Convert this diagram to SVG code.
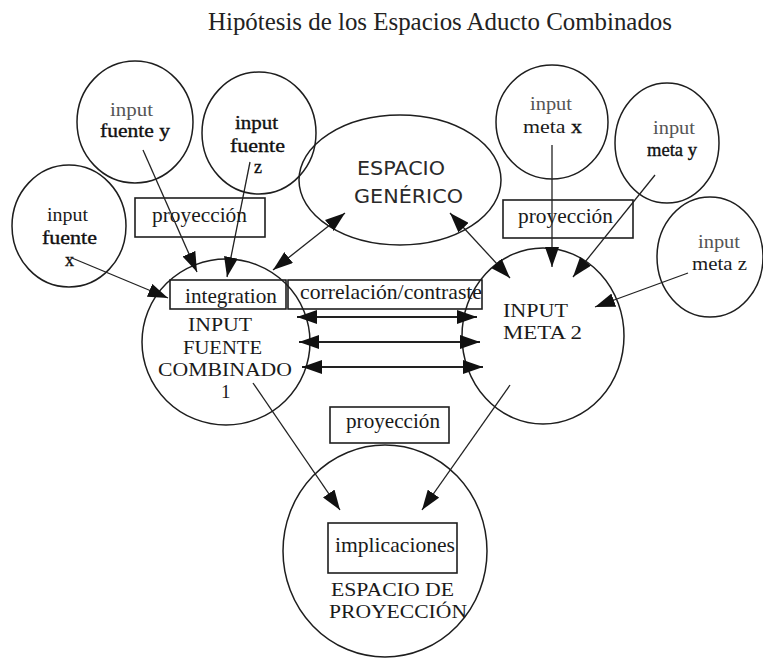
<svg xmlns="http://www.w3.org/2000/svg" width="763" height="659" viewBox="0 0 763 659">
<defs>
<style>
.bg{fill:#ffffff}
.c{fill:none;stroke:#1e1e1e;stroke-width:1.5}
.b{fill:none;stroke:#1e1e1e;stroke-width:1.6}
.l{fill:none;stroke:#222;stroke-width:1.3}
.hl{fill:none;stroke:#222;stroke-width:2}
.t{font-family:"Liberation Serif","Times New Roman",serif;font-size:21px;fill:#1a1a1a}
.sm{font-size:18px}
.md{font-size:19px}
.lt{fill:#555}
.dk{fill:#111;stroke:#111;stroke-width:0.35}
.s{font-family:"DejaVu Sans","Open Sans",sans-serif;font-size:19px;fill:#2a2a2a}
.ti{font-family:"Liberation Serif","Times New Roman",serif;font-size:25px;fill:#222}
</style>
<marker id="ah" viewBox="0 0 20 14" refX="20" refY="7" markerWidth="20" markerHeight="14" orient="auto-start-reverse" markerUnits="userSpaceOnUse">
<path d="M0,0 L20,7 L0,14 z" fill="#111"/>
</marker>
</defs>
<rect class="bg" x="0" y="0" width="763" height="659"/>
<text class="ti" x="208" y="30" textLength="464" lengthAdjust="spacingAndGlyphs">Hipótesis de los Espacios Aducto Combinados</text>

<g id="fuente-y">
<ellipse class="c" cx="135" cy="122" rx="58" ry="61"/>
<text class="t sm lt" x="110" y="116" textLength="43" lengthAdjust="spacingAndGlyphs">input</text>
<text class="t sm dk" x="100" y="137" textLength="70" lengthAdjust="spacingAndGlyphs">fuente y</text>
</g>
<g id="fuente-z">
<ellipse class="c" cx="259" cy="133" rx="57" ry="61"/>
<text class="t sm dk" x="235" y="129" textLength="43" lengthAdjust="spacingAndGlyphs">input</text>
<text class="t sm dk" x="230" y="152" textLength="55" lengthAdjust="spacingAndGlyphs">fuente</text>
<text class="t sm dk" x="254" y="173">z</text>
</g>
<g id="fuente-x">
<ellipse class="c" cx="69" cy="226" rx="57" ry="61"/>
<text class="t sm" x="47" y="221" textLength="41" lengthAdjust="spacingAndGlyphs">input</text>
<text class="t sm dk" x="42" y="244" textLength="55" lengthAdjust="spacingAndGlyphs">fuente</text>
<text class="t sm dk" x="65" y="266">x</text>
</g>
<g id="espacio-generico">
<ellipse class="c" cx="400" cy="180" rx="101" ry="65"/>
<text class="s" x="357" y="175" textLength="88" lengthAdjust="spacingAndGlyphs">ESPACIO</text>
<text class="s" x="354" y="203" textLength="109" lengthAdjust="spacingAndGlyphs">GENÉRICO</text>
</g>
<g id="meta-x">
<ellipse class="c" cx="552" cy="122" rx="56" ry="57"/>
<text class="t sm lt" x="530" y="110" textLength="42" lengthAdjust="spacingAndGlyphs">input</text>
<text class="t sm" x="523" y="133" textLength="59" lengthAdjust="spacingAndGlyphs">meta <tspan class="dk">x</tspan></text>
</g>
<g id="meta-y">
<ellipse class="c" cx="667" cy="143" rx="52" ry="60"/>
<text class="t sm lt" x="653" y="134" textLength="42" lengthAdjust="spacingAndGlyphs">input</text>
<text class="t sm dk" x="647" y="156" textLength="50" lengthAdjust="spacingAndGlyphs">meta y</text>
</g>
<g id="meta-z">
<ellipse class="c" cx="710" cy="257" rx="53" ry="60"/>
<text class="t sm lt" x="698" y="248" textLength="42" lengthAdjust="spacingAndGlyphs">input</text>
<text class="t sm" x="692" y="270" textLength="55" lengthAdjust="spacingAndGlyphs">meta z</text>
</g>
<g id="proyeccion-izq">
<rect class="b" x="135" y="198" width="130" height="39"/>
<text class="t" x="152" y="222" textLength="95" lengthAdjust="spacingAndGlyphs">proyección</text>
</g>
<g id="proyeccion-der">
<rect class="b" x="503" y="200" width="130" height="38"/>
<text class="t" x="518" y="223" textLength="95" lengthAdjust="spacingAndGlyphs">proyección</text>
</g>
<g id="input-fuente-combinado">
<ellipse class="c" cx="226" cy="342" rx="84" ry="83"/>
<text class="t md" x="188" y="331" textLength="64" lengthAdjust="spacingAndGlyphs">INPUT</text>
<text class="t md" x="183" y="354" textLength="79" lengthAdjust="spacingAndGlyphs">FUENTE</text>
<text class="t md" x="158" y="376" textLength="134" lengthAdjust="spacingAndGlyphs">COMBINADO</text>
<text class="t md" x="221" y="398">1</text>
</g>
<g id="integration">
<rect class="b" x="170" y="280" width="116" height="29" fill="#fff"/>
<text class="t" x="185" y="303" textLength="92" lengthAdjust="spacingAndGlyphs">integration</text>
</g>
<g id="correlacion">
<rect class="b" x="288" y="280" width="194" height="29" fill="#fff"/>
<text class="t" x="300" y="299" textLength="182" lengthAdjust="spacingAndGlyphs">correlación/contraste</text>
</g>
<g id="input-meta-2">
<ellipse class="c" cx="543" cy="336" rx="81" ry="88"/>
<text class="t md" x="503" y="317" textLength="65" lengthAdjust="spacingAndGlyphs">INPUT</text>
<text class="t md" x="503" y="339" textLength="79" lengthAdjust="spacingAndGlyphs">META 2</text>
</g>
<g id="proyeccion-centro">
<rect class="b" x="330" y="407" width="119" height="36"/>
<text class="t" x="346" y="428" textLength="94" lengthAdjust="spacingAndGlyphs">proyección</text>
</g>
<g id="espacio-proyeccion">
<ellipse class="c" cx="385" cy="551" rx="102" ry="106"/>
<rect class="b" x="328" y="523" width="129" height="50"/>
<text class="t" x="335" y="552" textLength="120" lengthAdjust="spacingAndGlyphs">implicaciones</text>
<text class="t md" x="331" y="596" textLength="123" lengthAdjust="spacingAndGlyphs">ESPACIO DE</text>
<text class="t md" x="329" y="618" textLength="138" lengthAdjust="spacingAndGlyphs">PROYECCIÓN</text>
</g>
<g id="connectors">
<path class="l" d="M143,150 L197,272" marker-end="url(#ah)"/>
<path class="l" d="M250,162 L227,277" marker-end="url(#ah)"/>
<path class="l" d="M72,258 L168,298" marker-end="url(#ah)"/>
<path class="l" d="M345,213 L273,270" marker-start="url(#ah)" marker-end="url(#ah)"/>
<path class="l" d="M450,213 L510,278" marker-start="url(#ah)" marker-end="url(#ah)"/>
<path class="l" d="M552,145 L552,267" marker-end="url(#ah)"/>
<path class="l" d="M655,175 L573,277" marker-end="url(#ah)"/>
<path class="l" d="M688,273 L595,307" marker-end="url(#ah)"/>
<path class="hl" d="M297,317 L477,317" marker-start="url(#ah)" marker-end="url(#ah)"/>
<path class="hl" d="M299,342 L480,342" marker-start="url(#ah)" marker-end="url(#ah)"/>
<path class="hl" d="M302,367 L483,367" marker-start="url(#ah)" marker-end="url(#ah)"/>
<path class="l" d="M253,383 L340,510" marker-end="url(#ah)"/>
<path class="l" d="M510,385 L422,510" marker-end="url(#ah)"/>
</g>
</svg>
